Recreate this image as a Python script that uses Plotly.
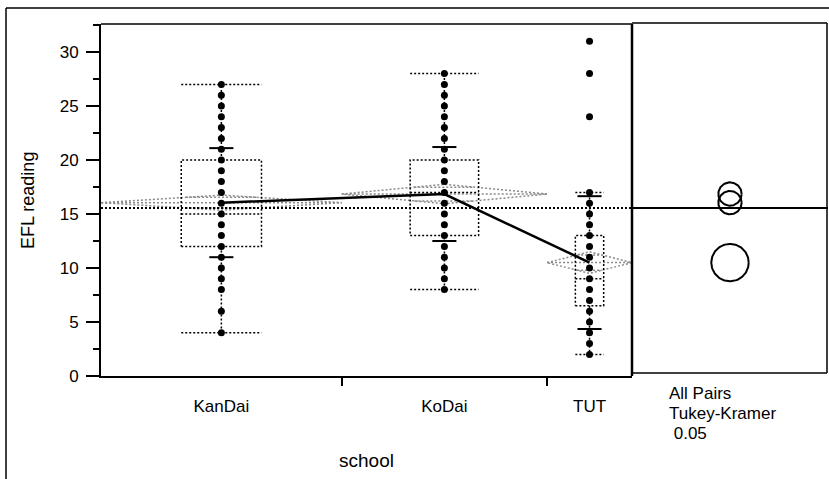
import numpy as np
import plotly.graph_objects as go

# ---------------- data ----------------
schools = ["KanDai", "KoDai", "TUT"]
group_n = [34, 29, 12]          # relative group widths (proportional to sample size)
kandai = [27, 26, 25, 24, 23, 22, 21, 20, 19, 18, 17, 16, 15, 14, 13, 12, 11, 10, 9, 8, 6, 4]
kodai = [28, 27, 26, 25, 24, 23, 22, 21, 20, 19, 18, 17, 16, 15, 14, 13, 12, 11, 10, 9, 8]
tut = [31, 28, 24, 17, 16, 15, 14, 13, 12, 11, 10, 9, 8, 7, 6, 5, 4, 3, 2]
means = [16.05, 16.85, 10.5]
sds = [5.05, 4.35, 6.15]
ci_half = [0.7, 0.9, 1.0]
q1 = [12, 13, 6.5]
medians = [15, 17, 9]
q3 = [20, 20, 13]
whisk_lo = [4, 8, 2]
whisk_hi = [27, 28, 17]
grand_mean = 15.55
circle_radius = [1.08, 1.08, 1.73]
y_ticks = [0, 5, 10, 15, 20, 25, 30]

# ---------------- geometry helpers ----------------
W, H = 829, 479
L, R, T, B = 101, 1, 24, 103
pw, ph = W - L - R, H - T - B
main_w = 531
px_per_unit = 10.8
y_max = ph / px_per_unit
right_units = (pw - main_w) / px_per_unit

def px(xp):
    return (xp - L) / pw

def py(yp):
    return (H - B - yp) / ph

edges = np.concatenate([[0], np.cumsum(group_n)])
centers = (edges[:-1] + edges[1:]) / 2
x_total = edges[-1]
groups = [kandai, kodai, tut]

fig = go.Figure()

# means diamonds
dx, dy = [], []
for i in range(3):
    l, r, c = edges[i], edges[i + 1], centers[i]
    m, h = means[i], ci_half[i]
    dx += [l, c, r, c, l, None, l, r, None]
    dy += [m, m + h, m, m - h, m, None, m, m, None]
    o = h / np.sqrt(2)
    hw = (r - l) / 2 * (1 - 1 / np.sqrt(2))
    for s in (1, -1):
        dx += [c - hw, c + hw, None]
        dy += [m + s * o, m + s * o, None]
fig.add_trace(go.Scatter(x=dx, y=dy, mode="lines", hoverinfo="skip",
                         line=dict(color="#8a8a8a", width=1.5, dash="2px,2px")))

# grand mean line (main)
fig.add_trace(go.Scatter(x=[0, x_total], y=[grand_mean, grand_mean], mode="lines",
                         line=dict(color="black", width=2, dash="2px,2px"), hoverinfo="skip"))

# box plots (dotted)
bx, by = [], []
for i in range(3):
    c = centers[i]
    hw = group_n[i] / 6
    bx += [c - hw, c + hw, c + hw, c - hw, c - hw, None]
    by += [q1[i], q1[i], q3[i], q3[i], q1[i], None]
    bx += [c - hw, c + hw, None]
    by += [medians[i], medians[i], None]
    bx += [c - hw, c + hw, None, c - hw, c + hw, None]
    by += [whisk_hi[i], whisk_hi[i], None, whisk_lo[i], whisk_lo[i], None]
    bx += [c, c, None, c, c, None]
    by += [q3[i], whisk_hi[i], None, q1[i], whisk_lo[i], None]
fig.add_trace(go.Scatter(x=bx, y=by, mode="lines", hoverinfo="skip",
                         line=dict(color="black", width=1.5, dash="2px,2px")))

# points
for i in range(3):
    fig.add_trace(go.Scatter(x=[centers[i]] * len(groups[i]), y=groups[i], mode="markers",
                             marker=dict(color="black", size=7), hoverinfo="y"))

# std dev ticks
sx, sy = [], []
for i in range(3):
    c = centers[i]
    for v in (means[i] + sds[i], means[i] - sds[i]):
        sx += [c - 1.7, c + 1.7, None]
        sy += [v, v, None]
fig.add_trace(go.Scatter(x=sx, y=sy, mode="lines", line=dict(color="black", width=2),
                         hoverinfo="skip"))

# connect means
fig.add_trace(go.Scatter(x=list(centers), y=means, mode="lines",
                         line=dict(color="black", width=2.5), hoverinfo="skip"))

# right panel: grand mean + comparison circles
fig.add_trace(go.Scatter(x=[0, right_units], y=[grand_mean, grand_mean], mode="lines",
                         xaxis="x2", yaxis="y", line=dict(color="black", width=2),
                         hoverinfo="skip"))
cc = right_units / 2
t = np.linspace(0, 2 * np.pi, 120)
for i in range(3):
    fig.add_trace(go.Scatter(x=cc + circle_radius[i] * np.cos(t),
                             y=means[i] + circle_radius[i] * np.sin(t),
                             mode="lines", xaxis="x2", yaxis="y",
                             line=dict(color="black", width=2), hoverinfo="skip"))

font = "Liberation Sans, Arial, sans-serif"

fig.update_layout(
    width=W, height=H,
    margin=dict(l=L, r=R, t=T, b=B, pad=0),
    paper_bgcolor="white", plot_bgcolor="white",
    showlegend=False,
    font=dict(family=font, size=17, color="black"),
    xaxis=dict(domain=[0, main_w / pw], range=[0, x_total], showgrid=False, zeroline=False,
               showline=True, linewidth=2, linecolor="black",
               tickmode="array", tickvals=list(centers), ticktext=schools,
               ticks="outside", ticklen=14, tickcolor="rgba(0,0,0,0)",
               tickfont=dict(size=17),
               minor=dict(tickmode="array", tickvals=list(edges[1:-1]), ticks="outside",
                          ticklen=8, tickwidth=2, tickcolor="black")),
    xaxis2=dict(domain=[main_w / pw, 1], range=[0, right_units], anchor="y",
                showgrid=False, zeroline=False, showline=False, showticklabels=False),
    yaxis=dict(range=[0, y_max], showgrid=False, zeroline=False,
               showline=True, linewidth=2, linecolor="black",
               tickmode="array", tickvals=y_ticks,
               ticks="outside", ticklen=13, tickwidth=2, tickcolor="black",
               ticklabelstandoff=4,
               tickfont=dict(size=17),
               minor=dict(dtick=2.5, ticks="outside", ticklen=6, tickwidth=2,
                          tickcolor="black")),
)

shapes = []
def line(x0, y0, x1, y1, w=2):
    shapes.append(dict(type="line", xref="paper", yref="paper",
                       x0=px(x0), y0=py(y0), x1=px(x1), y1=py(y1),
                       line=dict(color="black", width=w)))

# main frame top & right
line(101, 24, 632, 24, 1.5)
line(632, 24, 632, 376, 2.5)
# right panel frame
line(632, 23, 827, 23, 1.5)
line(827, 23, 827, 373, 1.5)
line(632, 373, 827, 373, 1.5)
# outer frame
line(6, 8, 829, 8, 1.5)
line(6, 8, 6, 479, 1.5)
fig.update_layout(shapes=shapes)

ann = [
    dict(text="EFL reading", x=px(28), y=py(201), textangle=-90, font=dict(size=18)),
    dict(text="school", x=px(366), y=py(460), font=dict(size=19)),
    dict(text="All Pairs", x=px(667), y=py(393), xanchor="left", font=dict(size=17)),
    dict(text="Tukey-Kramer", x=px(667), y=py(413), xanchor="left", font=dict(size=17)),
    dict(text=" 0.05", x=px(667), y=py(433), xanchor="left", font=dict(size=17)),
]
for a in ann:
    a.update(xref="paper", yref="paper", showarrow=False)
    a.setdefault("xanchor", "center")
    a["yanchor"] = "middle"
fig.update_layout(annotations=ann)

fig.write_html("out.html", config={"displayModeBar": False},
               post_script="document.body.style.margin='0';document.body.style.padding='0';")
